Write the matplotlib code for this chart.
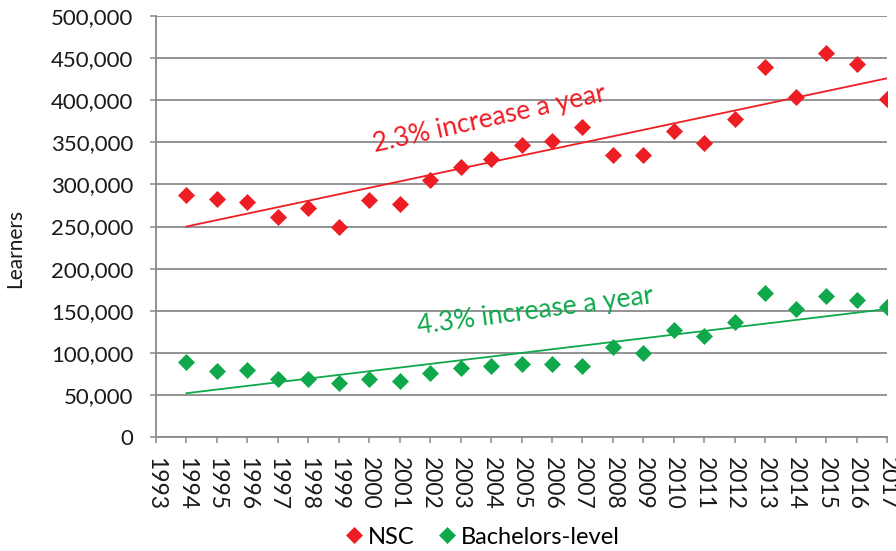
import matplotlib
matplotlib.use("Agg")
import matplotlib.pyplot as plt
import numpy as np

years = list(range(1993, 2018))
data_years = list(range(1994, 2018))
nsc = [287000, 283000, 279000, 261000, 272000, 249000, 281000, 277000, 305000,
       321000, 330000, 347000, 351000, 368000, 335000, 335000, 364000, 349000,
       378000, 440000, 404000, 456000, 443000, 402000]
bach = [89000, 78000, 80000, 68500, 68500, 64000, 69000, 66500, 75500,
        82000, 84500, 86500, 86500, 84500, 107000, 100000, 127000, 120000,
        136000, 171000, 151500, 167000, 163000, 154000]
trend_years = [1994, 2017]
nsc_trend = [250000, 426000]
bach_trend = [52000, 152000]
nsc_label = "2.3% increase a year"
bach_label = "4.3% increase a year"
y_label = "Learners"

RED = "#EE1D23"
GREEN = "#0FA84B"
GRID = "#8A8A8A"

plt.rcParams['font.family'] = ['Lato', 'DejaVu Sans']

fig = plt.figure(figsize=(8.96, 5.51), dpi=100)
ax = fig.add_axes([156/896, 1-437/551, (887-156)/896, (437-16)/551])

ax.plot(trend_years, nsc_trend, color=RED, lw=1.3, zorder=2)
ax.plot(trend_years, bach_trend, color=GREEN, lw=1.3, zorder=2)
ax.plot(data_years, nsc, ls='none', marker='D', ms=8.5, color=RED, mec=RED,
        mew=0.5, label='NSC', zorder=3)
ax.plot(data_years, bach, ls='none', marker='D', ms=8.5, color=GREEN, mec=GREEN,
        mew=0.5, label='Bachelors-level', zorder=3)

ax.set_xlim(1993, 2017)
ax.set_ylim(0, 500000)
ax.set_xticks(years)
ax.set_xticklabels([str(y) for y in years], rotation=-90, fontsize=16.5)
yt = np.arange(0, 500001, 50000)
ax.set_yticks(yt)
ax.set_yticklabels([f"{v:,}" for v in yt], fontsize=16)
ax.yaxis.grid(True, color=GRID, lw=1.3)
ax.set_axisbelow(True)
for s in ['top', 'right']:
    ax.spines[s].set_visible(False)
for s in ['left', 'bottom']:
    ax.spines[s].set_color(GRID)
    ax.spines[s].set_linewidth(1.3)
ax.tick_params(axis='both', colors=GRID, labelcolor='#1a1a1a', length=4.5, width=1.1)
ax.tick_params(axis='y', pad=12)
ax.tick_params(axis='x', pad=10)

fig.text(15/896, 1-248/551, y_label, rotation=90, ha='center', va='center',
         fontsize=15, color='#1a1a1a')

ax.text(2003.93, 377700, nsc_label, color=RED, fontsize=19, rotation=12.5,
        ha='center', va='center', rotation_mode='anchor')
ax.text(2005.44, 149600, bach_label, color=GREEN, fontsize=19, rotation=7.5,
        ha='center', va='center', rotation_mode='anchor')

fig.legend(loc='center', bbox_to_anchor=(0.539, 1-537/551), ncol=2, frameon=False,
           fontsize=17, handlelength=0.7, handletextpad=0.25, columnspacing=1.0,
           markerscale=0.95, borderpad=0.1)

fig.savefig("out.png", dpi=100)
